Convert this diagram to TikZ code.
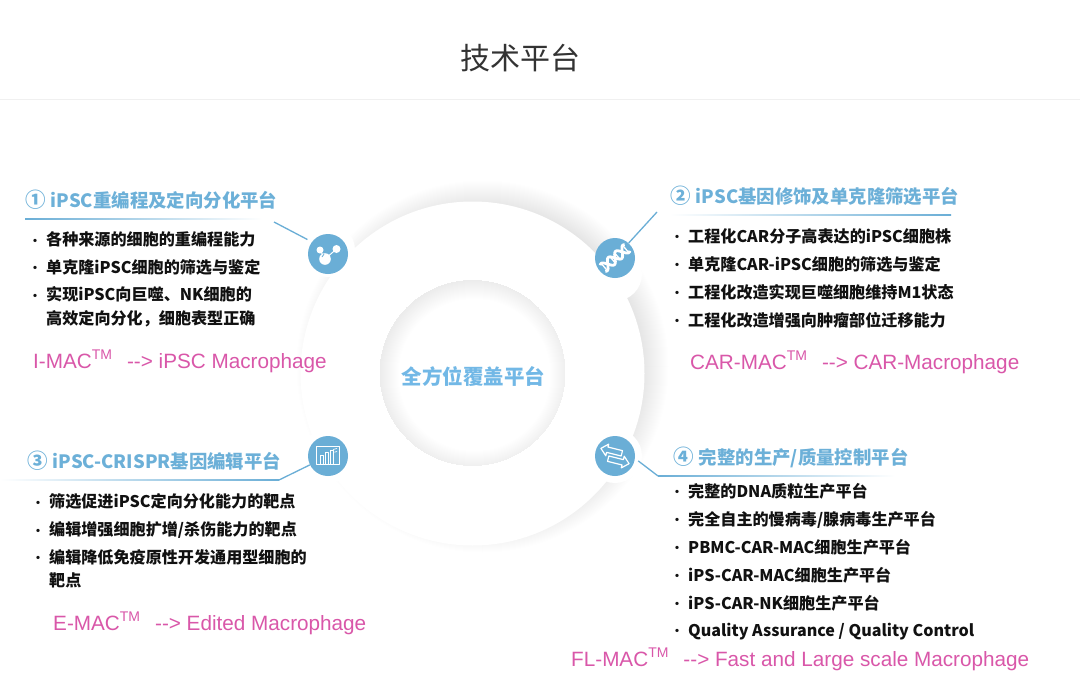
\documentclass[tikz,border=0pt]{standalone}
\usepackage{fontspec}
\setmainfont{Liberation Sans}
\newfontfamily\cjk{Noto Sans CJK SC}
\newfontfamily\arialf{Liberation Sans}
\definecolor{iconblue}{HTML}{6AAED6}
\definecolor{headblue}{HTML}{6CB0D8}
\definecolor{centerblue}{HTML}{72B8E6}
\definecolor{macpink}{HTML}{D957A9}
\definecolor{bodyink}{HTML}{111111}
\newcommand{\tmark}{\raisebox{.42em}{\fontsize{14}{14}\selectfont TM}}
\newcommand{\bul}{\makebox[13pt][l]{\hspace{-4pt}\fontsize{12}{12}\selectfont\raisebox{.5pt}{•}}}
\newcommand{\numb}[1]{{\fontsize{20.5}{20.5}\selectfont #1}\hspace{1pt}}
\tikzset{
  heading/.style={anchor=base west,inner sep=0pt,text=headblue,font=\cjk\bfseries\fontsize{18.4}{18.4}\selectfont},
  item/.style={anchor=base west,inner sep=0pt,text=bodyink,align=left,font=\cjk\bfseries\fontsize{16.1}{24}\selectfont},
  mac/.style={anchor=base west,inner sep=0pt,text=macpink,font=\arialf\fontsize{20.7}{20.7}\selectfont},
  iconbase/.style={circle,fill=iconblue,minimum size=40pt,inner sep=0pt},
  halo/.style={fill=white},
  leader/.style={draw=iconblue,line width=1.3pt},
  glyph/.style={draw=white,fill=none,line width=.8pt,line join=round}
}
\begin{document}
\begin{tikzpicture}[x=1pt,y=-1pt]
\useasboundingbox (0,0) rectangle (1080,683);
\fill[white] (0,0) rectangle (1080,683);
\draw[color=black!6,line width=.8pt] (0,99) -- (1080,99);
% ring shadow
\foreach \r in {0,1,...,26}{
  \fill[black,opacity=.004] (482.5,366.5) circle[radius=186-\r];
}
\fill[white] (472.5,373.5) circle[radius=172];
% inner disk with inset shadow
\fill[white] (472.5,373) circle[radius=93];
\begin{scope}
  \clip (472.5,373) circle[radius=93];
  \foreach \k in {0,1,...,18}{
    \fill[black,opacity=.0042,even odd rule] (472.5,373) circle[radius=100] (474.5,375) circle[radius=94-\k];
  }
\end{scope}
% halos
\foreach \cx/\cy in {328/250,615/274,328/456,615/456}{
  \foreach \r in {1,2,...,10}{
    \fill[black,opacity=.0012] (\cx+1,\cy+1) circle[radius=37-\r];
  }
  \fill[halo] (\cx,\cy) circle[radius=27];
}
% icons
\node[iconbase] (icon1) at (328,254) {};
\node[iconbase] (icon2) at (615,258) {};
\node[iconbase] (icon3) at (328,456) {};
\node[iconbase] (icon4) at (615,456) {};
% molecule
\begin{scope}[shift={(328,254)}]
  \draw[white,line width=1pt] (-8,-4) -- (-3,5) -- (8.5,-5);
  \fill[white] (-8,-4) circle[radius=3.5] (8.5,-5) circle[radius=4] (-3,5) circle[radius=5.8];
  \draw[iconblue,line width=.8pt] (-6,3) arc[start angle=180,end angle=250,radius=3];
\end{scope}
% helix
\begin{scope}[shift={(615,258)},rotate=40]
  \draw[white,line width=2.8pt] plot[smooth,samples=33,domain=-16:16] (\x,{4.8*sin(\x*19)});
  \draw[white,line width=2.8pt] plot[smooth,samples=33,domain=-16:16] (\x,{-4.8*sin(\x*19)});
  \foreach \p in {-14,-9,-3,3,9,14}{
    \draw[white,line width=1.3pt] (\p,{4.8*sin(\p*19)}) -- (\p,{-4.8*sin(\p*19)});
  }
\end{scope}
% chart
\begin{scope}[shift={(328,456)}]
  \draw[glyph,line width=.7pt] (-11.5,-9.5) rectangle (11.5,8);
  \draw[glyph,line width=.7pt] (-8,8) -- (-8,-1) -- (-5,-1) -- (-5,8);
  \draw[glyph,line width=.7pt] (-3,8) -- (-3,-4) -- (0,-4) -- (0,8);
  \draw[glyph,line width=.7pt] (2,8) -- (2,-6) -- (5,-6) -- (5,8);
  \draw[glyph,line width=.7pt] (5,-6.5) -- (9,-7.5) (6.5,-3.8) -- (9,-4.5);
\end{scope}
% arrows
\begin{scope}[shift={(615,456)},rotate=-14]
  \draw[glyph,line width=1.2pt] (-15.5,-4) -- (-9,-10) -- (-9,-7) -- (6,-7) -- (6,-1.5) -- (-9,-1.5) -- (-9,2) -- cycle;
  \draw[glyph,line width=1.2pt] (15.5,4) -- (9,10) -- (9,7) -- (-6,7) -- (-6,1.5) -- (9,1.5) -- (9,-2) -- cycle;
\end{scope}
% underlines
\shade[left color=iconblue,right color=white] (25,218.4) rectangle (262,219.6);
\shade[left color=white,right color=iconblue] (670,214.4) rectangle (951,215.6);
\shade[left color=white,right color=iconblue] (0,479.4) rectangle (279,480.6);
\shade[left color=iconblue,right color=white] (658,475.4) rectangle (895,476.6);
% connector ends
\coordinate (k1) at (274,222);
\coordinate (k2) at (657,212);
\coordinate (k3) at (279,480);
\coordinate (k4) at (658,476);
\draw[leader,shorten >=5pt] (k1) -- (icon1.143);
\draw[leader] (k2) -- (icon2);
\draw[leader] (k3) -- (icon3);
\draw[leader,shorten >=4pt] (k4) -- (icon4.-7);
% title and centre
\node[inner sep=0pt,text=black!80,font=\cjk\fontsize{30}{30}\selectfont] (title) at (520,58) {技术平台};
\node[inner sep=0pt,text=centerblue,font=\cjk\bfseries\fontsize{20.5}{20.5}\selectfont] (hub) at (473.5,377) {全方位覆盖平台};
% block 1
\node[heading] (h1) at (25,207.5) {\numb{①} iPSC重编程及定向分化平台};
\node[item] (a1) at (33,245.5) {\bul 各种来源的细胞的重编程能力};
\node[item] (a2) at (33,273) {\bul 单克隆iPSC细胞的筛选与鉴定};
\node[item] (a3) at (33,300.5) {\bul 实现iPSC向巨噬、NK细胞的};
\node[item] (a3b) at (46,324) {高效定向分化，细胞表型正确};
\node[mac] (m1) at (33,368) {I-MAC\tmark\hspace{15pt}--> iPSC Macrophage};
% block 2
\node[heading] (h2) at (670,203.5) {\numb{②} iPSC基因修饰及单克隆筛选平台};
\node[item] (b1) at (675,242) {\bul 工程化CAR分子高表达的iPSC细胞株};
\node[item] (b2) at (675,270) {\bul 单克隆CAR-iPSC细胞的筛选与鉴定};
\node[item] (b3) at (675,298) {\bul 工程化改造实现巨噬细胞维持M1状态};
\node[item] (b4) at (675,326) {\bul 工程化改造增强向肿瘤部位迁移能力};
\node[mac] (m2) at (690,369) {CAR-MAC\tmark\hspace{15pt}--> CAR-Macrophage};
% block 3
\node[heading] (h3) at (27,468.5) {\numb{③} iPSC-CRISPR基因编辑平台};
\node[item] (c1) at (36,507.5) {\bul 筛选促进iPSC定向分化能力的靶点};
\node[item] (c2) at (36,535.5) {\bul 编辑增强细胞扩增/杀伤能力的靶点};
\node[item] (c3) at (36,563) {\bul 编辑降低免疫原性开发通用型细胞的};
\node[item] (c3b) at (49,586.5) {靶点};
\node[mac] (m3) at (53,630) {E-MAC\tmark\hspace{15pt}--> Edited Macrophage};
% block 4
\node[heading] (h4) at (673,464.5) {\numb{④} 完整的生产/质量控制平台};
\node[item] (d1) at (675,497) {\bul 完整的DNA质粒生产平台};
\node[item] (d2) at (675,525) {\bul 完全自主的慢病毒/腺病毒生产平台};
\node[item] (d3) at (675,553) {\bul PBMC-CAR-MAC细胞生产平台};
\node[item] (d4) at (675,581) {\bul iPS-CAR-MAC细胞生产平台};
\node[item] (d5) at (675,609) {\bul iPS-CAR-NK细胞生产平台};
\node[item] (d6) at (675,636) {\bul Quality Assurance / Quality Control};
\node[mac] (m4) at (571,666) {FL-MAC\tmark\hspace{15pt}--> Fast and Large scale Macrophage};
\end{tikzpicture}
\end{document}
